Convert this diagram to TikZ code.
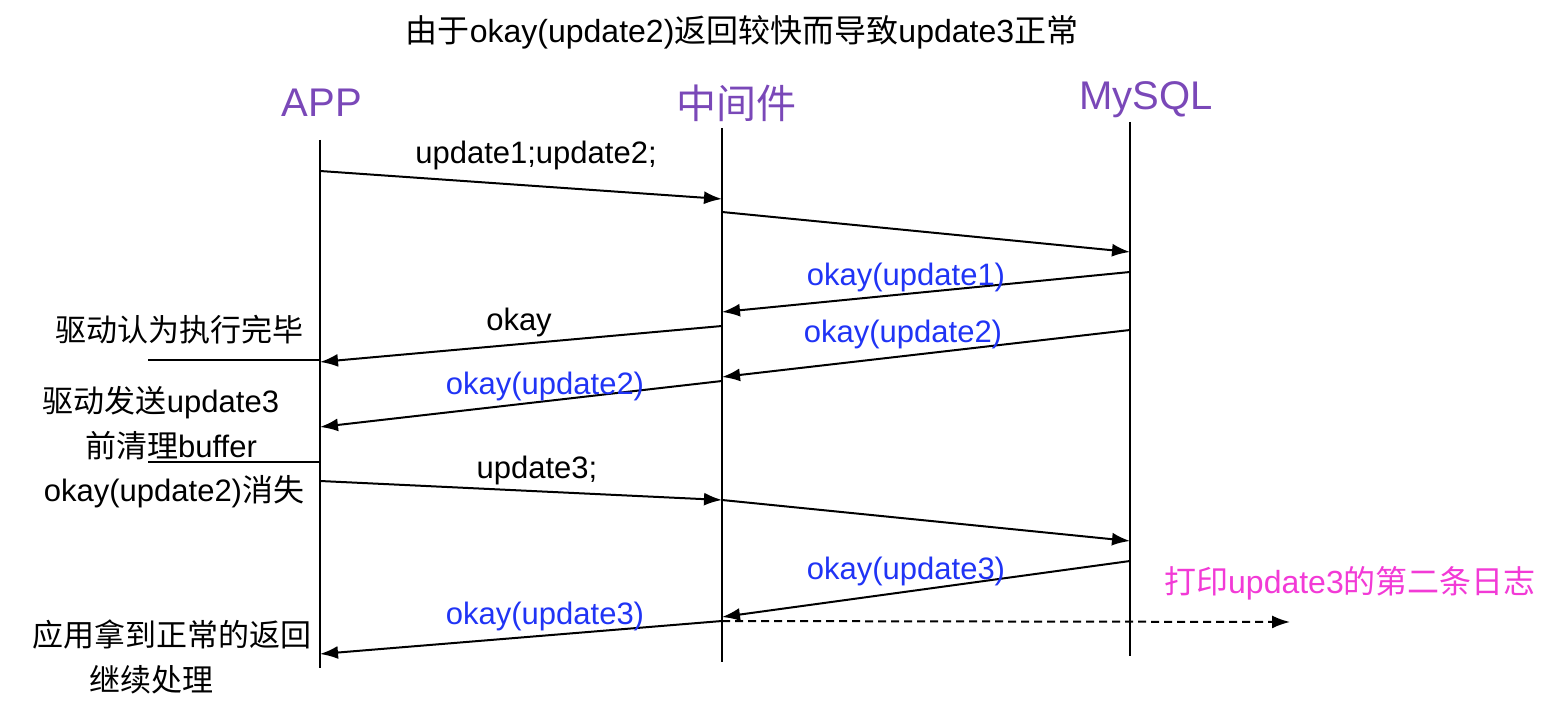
\documentclass[tikz,border=0pt]{standalone}
\usepackage{fontspec}
\setmainfont{Liberation Sans}
\newfontfamily\cjk{Noto Sans CJK SC}
\usetikzlibrary{arrows.meta}
\definecolor{actorpurple}{RGB}{122,72,184}
\definecolor{okblue}{RGB}{32,52,245}
\definecolor{logpink}{RGB}{242,58,214}

\begin{document}
\begin{tikzpicture}[x=0.5pt,y=-0.5pt,
  every node/.style={inner sep=0pt},
  txt/.style={font=\fontsize{15.5}{19}\selectfont},
  cjktxt/.style={font=\cjk\fontsize{15.5}{19}\selectfont},
  actor/.style={font=\fontsize{20}{24}\selectfont, text=actorpurple},
  lifeline/.style={line width=1pt},
  msg/.style={line width=1pt, -{Latex[length=9pt,width=6.5pt]}},
  note/.style={line width=1pt}]
\useasboundingbox (0,0) rectangle (1558,710);

\node[txt, font=\fontsize{16}{19}\selectfont] (title) at (742,32) {{\cjk 由于}okay(update2){\cjk 返回较快而导致}update3{\cjk 正常}};

% lifelines
\node[actor] (app) at (322,103) {APP};
\node[actor, font=\cjk\fontsize{20}{24}\selectfont] (mid) at (736,103) {中间件};
\node[actor] (db) at (1146,100) {MySQL};
\coordinate (appT) at (320,140);  \coordinate (appB) at (320,668);
\coordinate (midT) at (722,128);  \coordinate (midB) at (722,662);
\coordinate (dbT) at (1130,122);  \coordinate (dbB) at (1130,656);
\draw[lifeline] (appT) -- (appB);
\draw[lifeline] (midT) -- (midB);
\draw[lifeline] (dbT) -- (dbB);

% first batch
\coordinate (a1) at (320,171);  \coordinate (m1) at (722,199);
\coordinate (m2) at (722,212);  \coordinate (d2) at (1130,252);
\draw[msg] (a1) -- (m1);
\draw[msg] (m2) -- (d2);
\node[txt] (l1) at (536,155) {update1;update2;};

\coordinate (d3) at (1130,272); \coordinate (m3) at (722,312);
\coordinate (d4) at (1130,330); \coordinate (m4) at (722,377);
\draw[msg] (d3) -- (m3);
\draw[msg] (d4) -- (m4);
\node[txt, text=okblue] (l3) at (906,277) {okay(update1)};
\node[txt, text=okblue] (l4) at (903,334) {okay(update2)};

\coordinate (m5) at (722,326);  \coordinate (a5) at (320,362);
\coordinate (m6) at (722,381);  \coordinate (a6) at (320,427);
\draw[msg] (m5) -- (a5);
\draw[msg] (m6) -- (a6);
\node[txt] (l5) at (519,322) {okay};
\node[txt, text=okblue] (l6) at (545,386) {okay(update2)};

% second batch
\coordinate (a7) at (320,481);  \coordinate (m7) at (722,500);
\coordinate (m8) at (722,500);  \coordinate (d8) at (1130,541);
\draw[msg] (a7) -- (m7);
\draw[msg] (m8) -- (d8);
\node[txt] (l7) at (537,470) {update3;};

\coordinate (d9) at (1130,561); \coordinate (m9) at (722,617);
\coordinate (m10) at (722,621); \coordinate (a10) at (320,654);
\draw[msg] (d9) -- (m9);
\draw[msg] (m10) -- (a10);
\node[txt, text=okblue] (l9) at (906,571) {okay(update3)};
\node[txt, text=okblue] (l10) at (545,616) {okay(update3)};

\coordinate (log) at (1290,622);
\draw[msg, dash pattern=on 4pt off 2.5pt] (m10) -- (log);
\node[txt, text=logpink, font=\fontsize{16}{19}\selectfont] (logtxt) at (1350,583) {{\cjk 打印}update3{\cjk 的第二条日志}};

% notes on the left
\coordinate (n1) at (148,360);  \coordinate (n2) at (148,462);
\draw[note] (n1) -- (appT |- n1);
\draw[note] (n2) -- (appT |- n2);
\node[cjktxt] (done) at (179,330) {驱动认为执行完毕};
\node[txt] (send) at (161,403) {{\cjk 驱动发送}update3};
\node[txt] (clear) at (171,446) {{\cjk 前清理}buffer};
\node[txt] (lost) at (174,492) {okay(update2){\cjk 消失}};
\node[cjktxt] (ret) at (172,635) {应用拿到正常的返回};
\node[cjktxt] (cont) at (151,680) {继续处理};
\end{tikzpicture}
\end{document}
